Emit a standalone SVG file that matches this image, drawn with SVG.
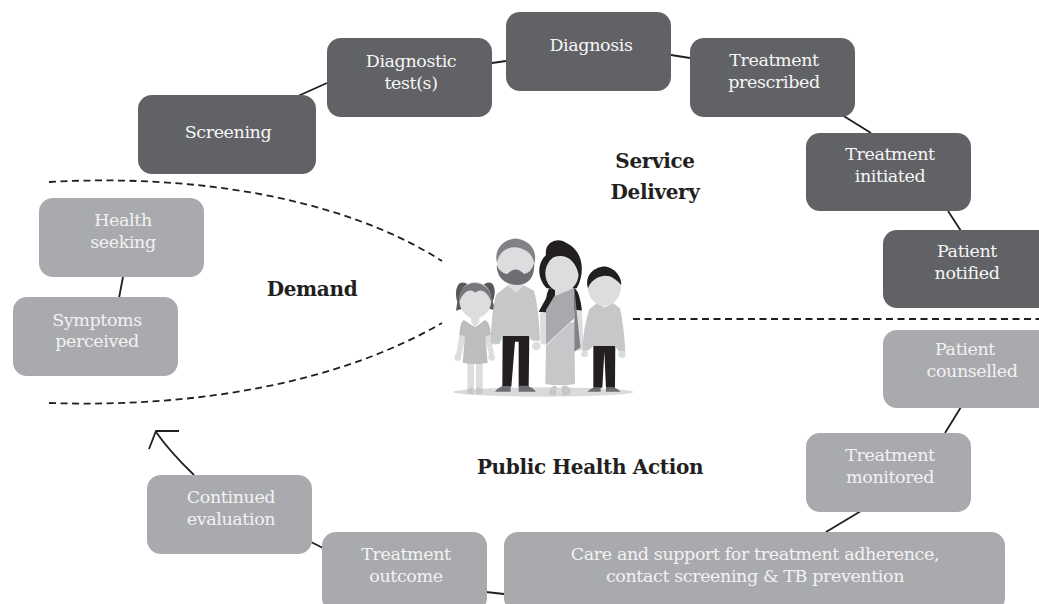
<svg xmlns="http://www.w3.org/2000/svg" width="1039" height="604" viewBox="0 0 1039 604">
<style>
.d{fill:#616265}.l{fill:#a9aaad}
.t{font:300 17.5px "DejaVu Serif","Liberation Serif",serif;fill:#f6f6f6;text-anchor:middle;letter-spacing:-.4px}
.tl{fill:#f2f2f3}
.h{font:700 20px "DejaVu Serif","Liberation Serif",serif;fill:#231f20;text-anchor:middle;letter-spacing:-.35px}
.c{fill:none;stroke:#231f20;stroke-width:1.8}
.ds{fill:none;stroke:#231f20;stroke-width:1.8;stroke-dasharray:7 4.5}
</style>
<rect width="1039" height="604" fill="#fff"/>
<g id="connectors">
<path class="c" d="M298 96 327 83M492 63 506 61M671 55 690 58M842 115 871 133M948 211 961 231M961 407 945 433M861 511 826 532M504 594 486 592M323 548 311 542M119 298 123 277"/>
<path class="c" d="M194 475Q170 452 156 432M149 449 156 431H179"/>
<path class="ds" d="M49 182C190 174 340 196 442 261M49 403C200 408 340 382 442 323M633 319H1039"/>
</g>
<g id="screening"><rect class="d" x="138" y="95" width="178" height="79" rx="14"/><text class="t" x="228" y="138">Screening</text></g>
<g id="diagnostic-test"><rect class="d" x="327" y="38" width="165" height="79" rx="14"/><text class="t" x="411" y="67">Diagnostic</text><text class="t" x="411" y="89">test(s)</text></g>
<g id="diagnosis"><rect class="d" x="506" y="12" width="165" height="79" rx="14"/><text class="t" x="591" y="51">Diagnosis</text></g>
<g id="treatment-prescribed"><rect class="d" x="690" y="38" width="165" height="79" rx="14"/><text class="t" x="774" y="66">Treatment</text><text class="t" x="774" y="88">prescribed</text></g>
<g id="treatment-initiated"><rect class="d" x="806" y="133" width="165" height="78" rx="14"/><text class="t" x="890" y="160">Treatment</text><text class="t" x="890" y="182">initiated</text></g>
<g id="patient-notified"><rect class="d" x="883" y="230" width="170" height="78" rx="14"/><text class="t" x="967" y="257">Patient</text><text class="t" x="967" y="279">notified</text></g>
<g id="patient-counselled"><rect class="l" x="883" y="330" width="170" height="78" rx="14"/><text class="t tl" x="965" y="355">Patient</text><text class="t tl" x="972" y="377">counselled</text></g>
<g id="treatment-monitored"><rect class="l" x="806" y="433" width="165" height="79" rx="14"/><text class="t tl" x="890" y="461">Treatment</text><text class="t tl" x="890" y="483">monitored</text></g>
<g id="care-support"><rect class="l" x="504" y="532" width="501" height="80" rx="14"/><text class="t tl" x="755" y="560">Care and support for treatment adherence,</text><text class="t tl" x="755" y="582">contact screening &amp; TB prevention</text></g>
<g id="treatment-outcome"><rect class="l" x="322" y="532" width="165" height="80" rx="14"/><text class="t tl" x="406" y="560">Treatment</text><text class="t tl" x="406" y="582">outcome</text></g>
<g id="continued-evaluation"><rect class="l" x="147" y="475" width="165" height="79" rx="14"/><text class="t tl" x="231" y="503">Continued</text><text class="t tl" x="231" y="525">evaluation</text></g>
<g id="health-seeking"><rect class="l" x="39" y="198" width="165" height="79" rx="14"/><text class="t tl" x="123" y="226">Health</text><text class="t tl" x="123" y="248">seeking</text></g>
<g id="symptoms-perceived"><rect class="l" x="13" y="297" width="165" height="79" rx="14"/><text class="t tl" x="97" y="326">Symptoms</text><text class="t tl" x="97" y="347">perceived</text></g>
<g id="labels">
<text class="h" x="655" y="168">Service</text><text class="h" x="655" y="199">Delivery</text>
<text class="h" x="312" y="296">Demand</text>
<text class="h" x="590" y="474">Public Health Action</text>
</g>
<g id="family" transform="translate(440 220) scale(.3333)">
<ellipse cx="310" cy="516" rx="270" ry="14" fill="#d9dadc"/>
<!-- girl -->
<path d="M85 195C52 170 42 215 52 245L48 272 80 262ZM130 195C163 170 172 215 158 245L168 272 135 262Z" fill="#58595b"/>
<rect x="82" y="420" width="20" height="85" fill="#dcdddf"/><rect x="108" y="420" width="20" height="85" fill="#dcdddf"/>
<path d="M80 510Q90 498 100 505L102 522 84 522ZM108 505Q118 498 130 510L126 522 108 522Z" fill="#c6c7c9"/>
<path d="M62 320 46 418 60 422 78 345ZM148 320 162 402 148 406 132 345Z" fill="#dcdddf"/>
<circle cx="155" cy="412" r="10" fill="#dcdddf"/><circle cx="53" cy="412" r="10" fill="#dcdddf"/>
<path d="M72 300 105 322 135 300Q150 305 153 345L136 348 143 428Q105 436 68 428L75 348 58 345Q60 305 72 300Z" fill="#bcbdbf"/>
<path d="M93 280H118V305L105 322 93 305Z" fill="#dcdddf"/>
<ellipse cx="106" cy="240" rx="48" ry="55" fill="#dcdddf"/>
<path d="M58 245C50 170 158 170 154 245 140 212 122 205 106 218 90 205 72 212 58 245Z" fill="#77787b"/>
<!-- man -->
<path d="M188 345H268L266 500H236V365L225 365 214 500H187Z" fill="#231f20"/>
<path d="M187 498H212V515H165Q172 505 187 498ZM236 497H262Q280 503 288 515H236Z" fill="#6d6e71"/>
<circle cx="165" cy="362" r="12" fill="#dcdddf"/><circle cx="289" cy="378" r="13" fill="#dcdddf"/>
<path d="M205 195 228 218 250 195 282 212Q296 260 300 362L276 362 266 348H188L178 372 152 370Q155 260 170 222Z" fill="#c6c7c9"/>
<path d="M205 175H250V198L228 218 205 198Z" fill="#dcdddf"/>
<ellipse cx="228" cy="125" rx="57" ry="70" fill="#dcdddf"/>
<path d="M171 128C160 85 195 55 228 56 262 58 295 85 283 132 280 110 268 92 240 84 215 76 178 88 171 128Z" fill="#808285"/>
<path d="M170 135Q180 160 202 162 228 135 252 162 275 158 282 130 286 192 232 195 172 192 170 135Z" fill="#6d6e71"/>
<!-- woman -->
<path d="M318 105C312 60 360 52 378 68 432 92 436 160 410 205L320 205C290 172 292 130 318 105Z" fill="#231f20"/>
<path d="M335 205 296 275 340 280 338 300 388 310 395 270 426 272Q420 220 405 205Z" fill="#231f20"/>
<path d="M327 205Q312 235 320 290H334Q342 250 345 205Z" fill="#231f20"/>
<path d="M408 270 426 272 430 385 412 388Z" fill="#dcdddf"/><circle cx="418" cy="380" r="12" fill="#dcdddf"/>
<path d="M300 278H318L320 375 302 372Z" fill="#dcdddf"/>
<path d="M318 375 316 492Q360 500 405 492L403 305 388 310Z" fill="#c6c7c9"/>
<path d="M330 510Q340 492 350 500L348 526Q335 528 325 522ZM365 500Q380 490 392 510L390 522Q375 530 366 525Z" fill="#c6c7c9"/>
<path d="M318 270 345 225 403 205 403 296 318 375Z" fill="#a7a9ac"/>
<path d="M403 296 403 395 422 382 420 370 403 205Z" fill="#808285"/>
<path d="M318 375 403 296" stroke="#fff" stroke-width="2" fill="none"/>
<path d="M345 195H385L402 205 345 228Z" fill="#dcdddf"/>
<ellipse cx="366" cy="160" rx="50" ry="56" fill="#dcdddf"/>
<path d="M316 165C305 125 332 105 340 112 375 98 408 120 416 165 425 115 398 85 366 80 330 85 305 120 316 165Z" fill="#231f20"/>
<!-- boy -->
<path d="M460 375H526L525 503H498L493 395 487 503H460Z" fill="#231f20"/>
<path d="M460 503H482V515H442Q448 508 460 503ZM498 503H525Q535 508 542 515H498Z" fill="#6d6e71"/>
<path d="M470 250 494 262 520 250 540 265Q552 320 556 395L538 395 524 378H460L444 392H427Q430 320 448 268Z" fill="#c6c7c9"/>
<circle cx="434" cy="402" r="10" fill="#dcdddf"/><circle cx="546" cy="403" r="11" fill="#dcdddf"/>
<ellipse cx="493" cy="200" rx="50" ry="58" fill="#dcdddf"/>
<path d="M444 205C432 160 470 138 500 140 525 145 545 170 544 195 525 175 510 165 490 168 470 170 450 185 444 205Z" fill="#231f20"/>
</g>
</svg>
